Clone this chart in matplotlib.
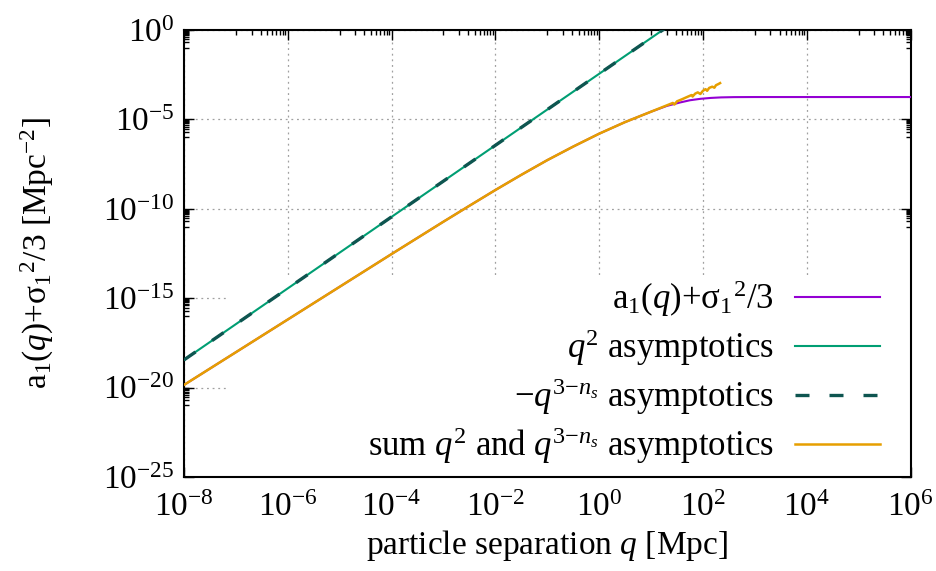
import numpy as np
import matplotlib.pyplot as plt
from matplotlib.ticker import FixedLocator, NullFormatter
from matplotlib.patches import Rectangle

plt.rcParams['font.family'] = ['Liberation Serif', 'DejaVu Serif']
plt.rcParams['mathtext.fontset'] = 'custom'
plt.rcParams['mathtext.rm'] = 'Liberation Serif'
plt.rcParams['mathtext.it'] = 'Liberation Serif:italic'
plt.rcParams['mathtext.bf'] = 'Liberation Serif:bold'

# values, as log10
# a1(q) + sigma1^2/3
a1_logq = [-8.0, -7.0, -6.0, -5.0, -4.0, -3.0, -2.5, -2.0, -1.5, -1.0, -0.5, 0.0, 0.5,
           1.0, 1.3, 1.55, 1.75, 1.95, 2.15, 2.35, 2.6, 3.0, 4.0, 5.0, 6.0]
a1_logy = [-19.85, -18.02, -16.19, -14.36, -12.53, -10.72, -9.83, -8.95, -8.10, -7.28,
           -6.52, -5.80, -5.15, -4.57, -4.25, -4.06, -3.93, -3.85, -3.80, -3.77, -3.755,
           -3.75, -3.75, -3.75, -3.75]

# q^2 asymptotics
q2_logq = [-8.0, -4.0, 0.0, 1.3]
q2_logy = [-18.45, -10.45, -2.45, 0.15]

# -q^(3-ns) asymptotics
qns_logq = [-8.0, -4.0, 0.0, 1.3]
qns_logy = [-18.45, -10.45, -2.45, 0.15]

# sum of both asymptotics (numerically noisy at large q)
sum_logq = [-8.0, -7.0, -6.0, -5.0, -4.0, -3.0, -2.5, -2.0, -1.5, -1.0, -0.5, 0.0, 0.5,
            1.0, 1.3, 1.42, 1.45, 1.5, 1.6, 1.7, 1.78, 1.8, 1.85, 1.9, 1.95, 2.0,
            2.05, 2.08, 2.12, 2.18, 2.22, 2.25, 2.3, 2.33]
sum_logy = [-19.85, -18.02, -16.19, -14.36, -12.53, -10.72, -9.83, -8.95, -8.10, -7.28,
            -6.52, -5.80, -5.15, -4.57, -4.22, -4.08, -4.17, -3.99, -3.87, -3.74, -3.64,
            -3.72, -3.56, -3.49, -3.58, -3.40, -3.31, -3.40, -3.24, -3.17, -3.23,
            -3.09, -3.02, -2.97]

labels = [r'$\mathrm{a}_1(q)$+$\mathrm{σ}_1{}^2$/3',
          r'$q^2$ asymptotics',
          r'$-q^{3{-}n_s}$ asymptotics',
          r'sum $q^2$ and $q^{3{-}n_s}$ asymptotics']

fig = plt.figure(figsize=(9.36, 5.71), dpi=100)
ax = fig.add_axes([0.1966, 0.1646, 0.9728 - 0.1966, 0.9475 - 0.1646])

ax.plot(10 ** np.array(a1_logq), 10 ** np.array(a1_logy), color='#9400d3', lw=1.5, label=labels[0], zorder=3)
ax.plot(10 ** np.array(q2_logq), 10 ** np.array(q2_logy), color='#009e73', lw=1.5, label=labels[1], zorder=3)
ax.plot(10 ** np.array(qns_logq), 10 ** np.array(qns_logy), color='#0e5550', lw=2.4,
        dashes=(4.2, 6.0), label=labels[2], zorder=4)
ax.plot(10 ** np.array(sum_logq), 10 ** np.array(sum_logy), color='#e69f00', lw=1.8, label=labels[3], zorder=5)

ax.set_xscale('log')
ax.set_yscale('log')
ax.set_xlim(1e-8, 1e6)
ax.set_ylim(1e-25, 1e0)

# gnuplot style ticks
xmaj = [10.0 ** k for k in range(-8, 7, 2)]
ymaj = [10.0 ** k for k in range(-25, 1, 5)]
xmin = [10.0 ** (k + 1) * m for k in range(-8, 6, 2) for m in range(1, 10)]
ymin = [10.0 ** (k + 4) * m for k in range(-25, 0, 5) for m in range(1, 10)]
ax.xaxis.set_major_locator(FixedLocator(xmaj))
ax.yaxis.set_major_locator(FixedLocator(ymaj))
ax.xaxis.set_minor_locator(FixedLocator(xmin))
ax.yaxis.set_minor_locator(FixedLocator(ymin))
ax.xaxis.set_minor_formatter(NullFormatter())
ax.yaxis.set_minor_formatter(NullFormatter())
ax.set_xticklabels([r'$10^{%d}$' % k for k in range(-8, 7, 2)])
ax.set_yticklabels([r'$10^{%d}$' % k for k in range(-25, 1, 5)])

ax.tick_params(which='both', direction='in', top=True, right=True, labelsize=24, width=1)
ax.tick_params(which='major', length=7)
ax.tick_params(axis='x', which='major', pad=11)
ax.tick_params(axis='y', which='major', pad=7)
ax.tick_params(which='minor', length=3.5)
for s in ax.spines.values():
    s.set_linewidth(1.5)

ax.set_axisbelow(True)
ax.grid(True, which='major', color='#a0a0a0', linestyle=(0, (1.5, 3)), linewidth=0.9)

# opaque key area hides the grid
ax.add_patch(Rectangle((0.0606, 0.0), 0.94, 0.447, transform=ax.transAxes,
                       facecolor='white', edgecolor='none', zorder=1))

ax.set_xlabel(r'particle separation $q$ [Mpc]', fontsize=24, labelpad=4)
ax.set_ylabel(r'$\mathrm{a}_1(q)$+$\mathrm{σ}_1{}^2$/3 [Mpc$^{-2}$]', fontsize=24, labelpad=34)

leg = ax.legend(loc='lower right', bbox_to_anchor=(0.958, 0.025), markerfirst=False, frameon=False,
                fontsize=25, handlelength=2.45, handletextpad=0.6, labelspacing=0.24,
                borderaxespad=0.0, borderpad=0.0)
leg.set_zorder(6)

fig.savefig('out.png', dpi=100)
